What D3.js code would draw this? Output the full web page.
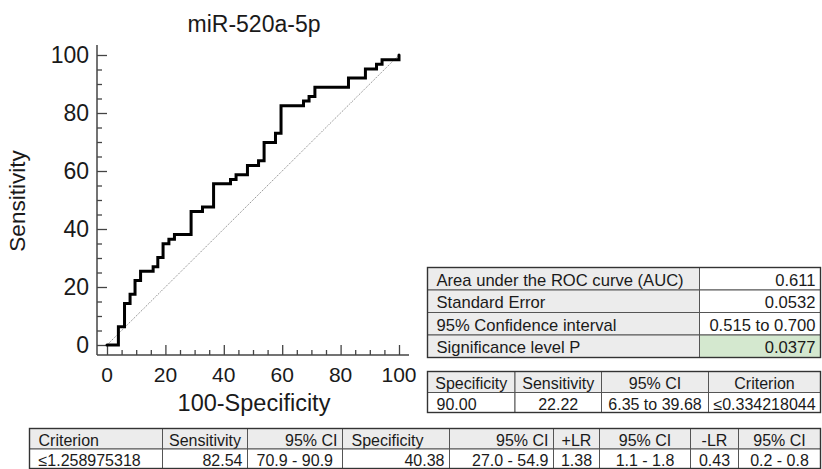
<!DOCTYPE html>
<html>
<head>
<meta charset="utf-8">
<script src="https://cdn.jsdelivr.net/npm/d3@7"></script>
<style>
body { margin: 0; background: #fff; }
svg { display: block; font-family: "Liberation Sans", Arial, Helvetica, sans-serif; }
</style>
</head>
<body>
<svg width="822" height="469"></svg>
<script>
// ROC curve corners (100-Specificity, Sensitivity)
var fpr = [0, 3.9, 6.0, 7.9, 9.6, 11.5, 15.8, 17.4, 19.2, 21.2, 23.1, 28.8, 32.7, 36.5, 42.3, 44.2, 48.1, 51.9, 53.8, 57.7, 59.6, 67.3, 69.2, 71.2, 82.7, 88.5, 92.3, 94.2, 100];
var tpr = [0, 6.3, 14.3, 17.5, 22.2, 25.4, 27.0, 30.2, 34.9, 36.5, 38.1, 46.0, 47.6, 55.6, 57.1, 58.7, 61.9, 63.5, 69.8, 73.0, 82.5, 84.1, 85.7, 88.9, 92.1, 95.2, 96.8, 98.4, 100];

var xTicks = [0, 20, 40, 60, 80, 100];
var yTicks = [0, 20, 40, 60, 80, 100];

var aucLabels = ["Area under the ROC curve (AUC)", "Standard Error", "95% Confidence interval", "Significance level P"];
var aucValues = ["0.611", "0.0532", "0.515 to 0.700", "0.0377"];

var cutHeader = ["Specificity", "Sensitivity", "95% CI", "Criterion"];
var cutRow = ["90.00", "22.22", "6.35 to 39.68", "\u22640.334218044"];

var critHeader = ["Criterion", "Sensitivity", "95% CI", "Specificity", "95% CI", "+LR", "95% CI", "-LR", "95% CI"];
var critRow = ["\u22641.258975318", "82.54", "70.9 - 90.9", "40.38", "27.0 - 54.9", "1.38", "1.1 - 1.8", "0.43", "0.2 - 0.8"];

var svg = d3.select("svg");
var ink = "#1a1a1a", axisColor = "#444", gray = "#ececec", green = "#d4e8cf";

var x = d3.scaleLinear().domain([0, 100]).range([107, 399]);
var y = d3.scaleLinear().domain([0, 100]).range([345, 55]);

// title
svg.append("text")
    .attr("x", 254).attr("y", 32)
    .attr("text-anchor", "middle")
    .style("font-size", "23px").style("fill", ink)
    .text("miR-520a-5p");

// axes: ticks from d3 axes, minor ticks shortened
var yAxis = svg.append("g")
    .attr("transform", "translate(97,0)")
    .call(d3.axisRight(y).tickValues(d3.range(0, 101, 5)).tickSize(10).tickFormat(""));
yAxis.select(".domain").remove();
yAxis.selectAll(".tick line")
    .attr("x2", function (d) { return d % 20 ? 5 : 10; })
    .attr("stroke", axisColor).attr("stroke-width", 1.3);

var xAxis = svg.append("g")
    .attr("transform", "translate(0,355)")
    .call(d3.axisTop(x).tickValues(d3.range(0, 101, 5)).tickSize(10).tickFormat(""));
xAxis.select(".domain").remove();
xAxis.selectAll(".tick line")
    .attr("y2", function (d) { return d % 20 ? -5 : -10; })
    .attr("stroke", axisColor).attr("stroke-width", 1.3);

svg.append("line")
    .attr("x1", 97).attr("x2", 97).attr("y1", y(100) - 10).attr("y2", 355)
    .attr("stroke", axisColor).attr("stroke-width", 1.5);
svg.append("line")
    .attr("x1", 97).attr("x2", x(100) + 10).attr("y1", 355).attr("y2", 355)
    .attr("stroke", axisColor).attr("stroke-width", 1.5);

svg.selectAll(".ylab")
    .data(yTicks)
    .enter().append("text")
    .attr("class", "ylab")
    .attr("x", 89).attr("y", function (d) { return y(d); })
    .attr("dy", "0.35em")
    .attr("text-anchor", "end")
    .style("font-size", "23px").style("fill", ink)
    .text(function (d) { return d; });

svg.selectAll(".xlab")
    .data(xTicks)
    .enter().append("text")
    .attr("class", "xlab")
    .attr("x", function (d) { return x(d); }).attr("y", 382)
    .attr("text-anchor", "middle")
    .style("font-size", "21px").style("fill", ink)
    .text(function (d) { return d; });

svg.append("text")
    .attr("transform", "translate(24.5," + 201 + ") rotate(-90)")
    .attr("text-anchor", "middle")
    .style("font-size", "22.5px").style("fill", ink)
    .text("Sensitivity");

svg.append("text")
    .attr("x", 254).attr("y", 411)
    .attr("text-anchor", "middle")
    .style("font-size", "23.5px").style("fill", ink)
    .text("100-Specificity");

// reference diagonal
svg.append("line")
    .attr("x1", x(0)).attr("y1", y(0)).attr("x2", x(100)).attr("y2", y(100))
    .attr("stroke", "#666").attr("stroke-width", 0.8).attr("stroke-dasharray", "1.2,1.2");

// ROC step curve
var pts = fpr.map(function (d, i) { return [d, tpr[i]]; });
svg.append("path")
    .datum(pts)
    .attr("fill", "none")
    .attr("stroke", "#000")
    .attr("stroke-width", 3)
    .attr("stroke-linecap", "round")
    .attr("d", d3.line()
        .x(function (d) { return x(d[0]); })
        .y(function (d) { return y(d[1]); })
        .curve(d3.curveStepAfter));

// simple table drawer
function drawTable(cols, rows, cells, fs) {
    var g = svg.append("g");
    cells.forEach(function (c) {
        var x0 = cols[c.c], x1 = cols[c.c + 1], y0 = rows[c.r], y1 = rows[c.r + 1];
        g.append("rect")
            .attr("x", x0).attr("y", y0).attr("width", x1 - x0).attr("height", y1 - y0)
            .attr("fill", c.fill || "#fff")
            .attr("stroke", "#555").attr("stroke-width", 1);
        var tx = c.align === "start" ? x0 + 9 : c.align === "end" ? x1 - 5 : (x0 + x1) / 2;
        g.append("text")
            .attr("x", tx).attr("y", (y0 + y1) / 2 + 7)
            .attr("text-anchor", c.align || "middle")
            .style("font-size", fs + "px").style("fill", ink)
            .text(c.text);
    });
    g.append("rect")
        .attr("x", cols[0]).attr("y", rows[0])
        .attr("width", cols[cols.length - 1] - cols[0]).attr("height", rows[rows.length - 1] - rows[0])
        .attr("fill", "none").attr("stroke", "#333").attr("stroke-width", 1.4);
}

// AUC table
var aucCells = [];
aucLabels.forEach(function (t, i) {
    aucCells.push({ r: i, c: 0, text: t, align: "start", fill: gray });
    aucCells.push({ r: i, c: 1, text: aucValues[i], align: "end", fill: i === 3 ? green : "#fff" });
});
drawTable([427.5, 699.5, 820.5], [267.5, 290, 312.5, 335, 357.5], aucCells, 16.6);

// cut-off table
var cutCells = [];
cutHeader.forEach(function (t, i) { cutCells.push({ r: 0, c: i, text: t, align: "middle", fill: gray }); });
cutRow.forEach(function (t, i) { cutCells.push({ r: 1, c: i, text: t, align: i === 0 ? "start" : "middle" }); });
drawTable([427.5, 515, 601.5, 708.5, 820.5], [371.5, 392.5, 412.5], cutCells, 16);

// criterion table
var headAlign = ["start", "middle", "end", "start", "end", "middle", "middle", "middle", "middle"];
var rowAlign = ["start", "end", "start", "end", "end", "middle", "middle", "middle", "middle"];
var critCells = [];
critHeader.forEach(function (t, i) { critCells.push({ r: 0, c: i, text: t, align: headAlign[i], fill: gray }); });
critRow.forEach(function (t, i) { critCells.push({ r: 1, c: i, text: t, align: rowAlign[i] }); });
drawTable([29.5, 162.5, 247.5, 342.5, 449.5, 553.5, 599.5, 690.5, 738.5, 820.5], [428.5, 449, 468.5], critCells, 16);
</script>
</body>
</html>
